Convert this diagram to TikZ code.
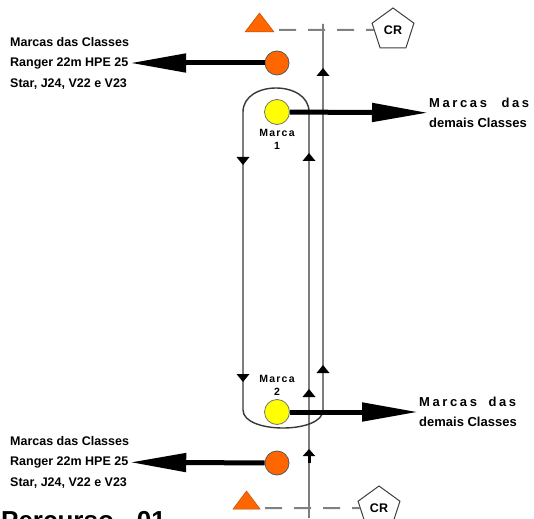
\documentclass[tikz,border=0pt]{standalone}
\usepackage{fontspec}
\setmainfont{Liberation Sans}
\newfontfamily\spacedfont[LetterSpace=20]{Liberation Sans}
\newfontfamily\markfont[LetterSpace=12]{Liberation Sans}
\usetikzlibrary{arrows.meta,shapes.geometric}
\definecolor{buoyorange}{RGB}{255,102,0}
\definecolor{buoyyellow}{RGB}{255,255,0}
\begin{document}
\begin{tikzpicture}[x=1pt,y=-1pt,
  course/.style={draw=black!78, line width=1.4pt},
  startline/.style={draw=black!50, line width=2pt, dash pattern=on 17pt off 12pt},
  odot/.style={circle, fill=buoyorange, draw=black!65, line width=0.8pt, minimum size=24pt, inner sep=0pt},
  ydot/.style={circle, fill=buoyyellow, draw=black!55, line width=0.8pt, minimum size=25pt, inner sep=0pt},
  crboat/.style={regular polygon, regular polygon sides=5, draw=black!75, line width=1pt, fill=white, minimum size=44pt, inner sep=0pt, font=\bfseries\fontsize{12.5}{13}\selectfont},
  buoytri/.style={fill=buoyorange, draw=buoyorange!75!black, line width=0.5pt},
  thickarrow/.style={line width=5pt, -{Triangle[length=56pt,width=18pt]}},
  lefttxt/.style={anchor=west, align=left, inner sep=1pt, font=\bfseries\fontsize{12.5}{20.5}\selectfont},
  righttxt/.style={anchor=west, align=left, inner sep=1pt, font=\bfseries\fontsize{13}{19.5}\selectfont},
  marcatxt/.style={align=center, inner sep=0pt, font=\markfont\bfseries\fontsize{10.5}{13}\selectfont},
  uparr/.pic={\fill[black] (-6.5,4) -- (0,-4) -- (6.5,4) -- cycle;},
  downarr/.pic={\fill[black] (-6.5,-4) -- (0,4) -- (6.5,-4) -- cycle;}
]
\clip (0,0) rectangle (534,518);
\fill[white] (0,0) rectangle (534,518);

% course lines
\draw[course] (309,518) -- (309,112) .. controls (309,80) and (243,80) .. (243,112)
  -- (243,410) .. controls (243,434) and (323,434) .. (323,410) -- (323,24);

% mid-line direction arrows
\pic at (323,72) {uparr};
\pic at (309,157) {uparr};
\pic at (323,369) {uparr};
\pic at (309,393) {uparr};
\pic at (243,161) {downarr};
\pic at (243,378) {downarr};
\draw[line width=3pt, -{Triangle[length=7pt,width=12pt]}] (309,463) -- (309,449);

% start / finish lines
\fill[buoytri] (245,32) -- (259.5,13) -- (274,32) -- cycle;
\coordinate (tr1) at (279,30);
\node[crboat] (cr1) at (393,30) {CR};
\draw[startline] (tr1) -- (cr1);

\fill[buoytri] (233,509) -- (246.5,491) -- (260,509) -- cycle;
\coordinate (tr2) at (265,508);
\node[crboat] (cr2) at (379,508) {CR};
\draw[startline] (tr2) -- (cr2);

% marks
\node[odot] (o1) at (277,63) {};
\node[ydot] (y1) at (277,112) {};
\node[ydot] (y2) at (277,412) {};
\node[odot] (o2) at (277,463) {};

\node[marcatxt] (m1) at (277,139) {Marca\\1};
\node[marcatxt] (m2) at (277,385) {Marca\\2};

% texts
\node[lefttxt] (t1) at (9,63) {Marcas das Classes\\Ranger 22m HPE 25\\Star, J24, V22 e V23};
\node[lefttxt] (t2) at (9,462) {Marcas das Classes\\Ranger 22m HPE 25\\Star, J24, V22 e V23};
\node[righttxt] (t3) at (428,113) {\makebox[100pt][s]{\spacedfont\bfseries Marcas\hfill das}\\demais Classes};
\node[righttxt] (t4) at (418,412) {\makebox[97pt][s]{\spacedfont\bfseries Marcas\hfill das}\\demais Classes};

% thick arrows
\draw[thickarrow] (o1) -- (t1);
\draw[thickarrow] (y1) -- (t3);
\draw[thickarrow] (y2) -- (t4);
\draw[thickarrow] (o2) -- (t2);

% title (cut off at bottom edge, as in the reference)
\node[anchor=base west, inner sep=0pt, font=\bfseries\fontsize{26}{30}\selectfont] (title) at (1,529) {Percurso - 01};
\end{tikzpicture}
\end{document}
